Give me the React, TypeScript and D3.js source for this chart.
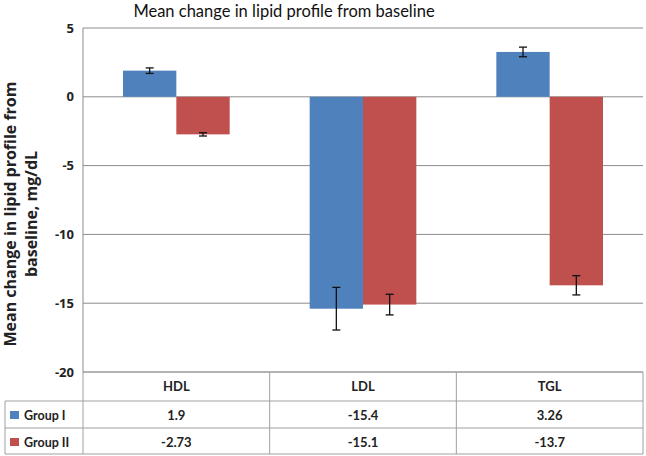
import React from 'react';
import * as d3 from 'd3';

// chart data
const categories = ['HDL', 'LDL', 'TGL'];
const groups = ['Group I', 'Group II'];
const groupOneValues = [1.9, -15.4, 3.26];
const groupTwoValues = [-2.73, -15.1, -13.7];
const groupOneErrors = [0.2, 1.55, 0.35];
const groupTwoErrors = [0.12, 0.75, 0.7];
const groupOneLabels = ['1.9', '-15.4', '3.26'];
const groupTwoLabels = ['-2.73', '-15.1', '-13.7'];
const yTicks = [5, 0, -5, -10, -15, -20];

const colors = ['#4F81BD', '#C0504D'];
const gridColor = '#8c8c8c';
const tableColor = '#a0a0a0';
const font = 'Lato, "DejaVu Sans", sans-serif';
const wideFont = '"Open Sans", "DejaVu Sans", sans-serif';

const width = 646;
const height = 456;
const left = 83;
const right = 643;
const top = 28;
const bottom = 372;
const rowBottoms = [401, 428, 454];

const App = () => {
  const x = d3.scaleBand().domain(categories).range([left, right]).padding(0);
  const inner = d3.scaleBand().domain(groups).range([0, x.bandwidth()]).paddingOuter(0.75).paddingInner(0);
  const y = d3.scaleLinear().domain([-20, 5]).range([bottom, top]);

  const series = [
    { values: groupOneValues, errors: groupOneErrors, labels: groupOneLabels },
    { values: groupTwoValues, errors: groupTwoErrors, labels: groupTwoLabels },
  ];

  const cap = 4;

  return (
    <svg width={width} height={height} style={{ position: 'absolute', left: 0, top: 0, background: '#fff' }}
      fontFamily={font}>
      <text x={284} y={17} textAnchor="middle" fontSize={16.5} fill="#111">
        Mean change in lipid profile from baseline
      </text>

      {/* gridlines */}
      {yTicks.map((t) => (
        <line key={'g' + t} x1={left} x2={right} y1={y(t)} y2={y(t)} stroke={gridColor} strokeWidth={1} />
      ))}
      <line x1={left} x2={left} y1={top} y2={bottom} stroke={gridColor} />

      {/* tick labels */}
      {yTicks.map((t) => (
        <text key={'t' + t} x={74} y={y(t) + 4.5} textAnchor="end" fontSize={13} fontWeight="bold"
          fontFamily={wideFont} fill="#222">
          {t}
        </text>
      ))}

      {/* y axis title */}
      <g transform={`translate(0, 214) rotate(-90)`} fontFamily={wideFont}>
        <text x={0} y={16} textAnchor="middle" fontSize={16} fontWeight="bold" fill="#222">
          Mean change in lipid profile from
        </text>
        <text x={0} y={37} textAnchor="middle" fontSize={16} fontWeight="bold" fill="#222">
          baseline, mg/dL
        </text>
      </g>

      {/* bars */}
      {series.map((s, si) =>
        categories.map((c, ci) => {
          const bx = (x(c) as number) + (inner(groups[si]) as number);
          const v = s.values[ci];
          return (
            <rect key={`b${si}-${ci}`} x={bx} width={inner.bandwidth()}
              y={Math.min(y(v), y(0))} height={Math.abs(y(v) - y(0))} fill={colors[si]} />
          );
        })
      )}

      {/* error bars */}
      {series.map((s, si) =>
        categories.map((c, ci) => {
          const cx = (x(c) as number) + (inner(groups[si]) as number) + inner.bandwidth() / 2;
          const v = s.values[ci];
          const e = s.errors[ci];
          return (
            <g key={`e${si}-${ci}`} stroke="#111" strokeWidth={1.3}>
              <line x1={cx} x2={cx} y1={y(v + e)} y2={y(v - e)} />
              <line x1={cx - cap} x2={cx + cap} y1={y(v + e)} y2={y(v + e)} />
              <line x1={cx - cap} x2={cx + cap} y1={y(v - e)} y2={y(v - e)} />
            </g>
          );
        })
      )}

      {/* data table */}
      <g stroke={tableColor} strokeWidth={1}>
        <line x1={left} x2={right} y1={bottom} y2={bottom} />
        {rowBottoms.map((r) => (
          <line key={'r' + r} x1={5} x2={right} y1={r} y2={r} />
        ))}
        <line x1={5} x2={5} y1={rowBottoms[0]} y2={rowBottoms[2]} />
        {categories.map((c) => (
          <line key={'v' + c} x1={x(c)} x2={x(c)} y1={bottom} y2={rowBottoms[2]} />
        ))}
        <line x1={right} x2={right} y1={bottom} y2={rowBottoms[2]} />
      </g>
      {categories.map((c) => (
        <text key={'h' + c} x={(x(c) as number) + x.bandwidth() / 2} y={391} textAnchor="middle"
          fontSize={13} fontWeight="bold" fill="#222">{c}</text>
      ))}
      {series.map((s, si) => (
        <g key={'row' + si}>
          <rect x={10} y={rowBottoms[si] + 10} width={9} height={8} fill={colors[si]} />
          <text x={24} y={rowBottoms[si] + 19} fontSize={12.5} fontWeight="bold" fill="#222">{groups[si]}</text>
          {categories.map((c, ci) => (
            <text key={'c' + ci} x={(x(c) as number) + x.bandwidth() / 2} y={rowBottoms[si] + 19}
              textAnchor="middle" fontSize={13} fontWeight="bold" fill="#222">{s.labels[ci]}</text>
          ))}
        </g>
      ))}
    </svg>
  );
};

export default App;
